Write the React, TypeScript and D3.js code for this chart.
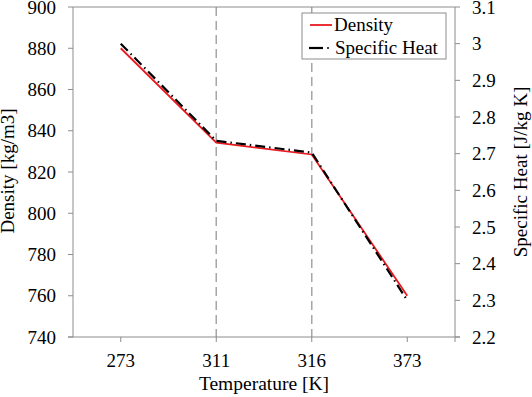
import React from "react";
import * as d3 from "d3";

const categories = ["273", "311", "316", "373"];
const density = [880, 834.2, 828.5, 760];
const specificHeat = [3.0, 2.735, 2.703, 2.3];
const leftTicks = [740, 760, 780, 800, 820, 840, 860, 880, 900];
const rightTicks = [2.2, 2.3, 2.4, 2.5, 2.6, 2.7, 2.8, 2.9, 3.0, 3.1];
const dashedAt = ["311", "316"];

const W = 532, H = 397;
const L = 73, R = 455, T = 7, B = 337;
const FONT = "Liberation Serif, DejaVu Serif, Times New Roman, serif";
const AX = "#8c8c8c";

export default function App() {
  const x = d3.scaleBand<string>().domain(categories).range([L, R]);
  const xc = (c: string) => (x(c) as number) + x.bandwidth() / 2;
  const yL = d3.scaleLinear().domain([740, 900]).range([B, T]);
  const yR = d3.scaleLinear().domain([2.2, 3.1]).range([B, T]);
  const lineD = d3.line<number>().x((_, i) => xc(categories[i])).y((d) => yL(d));
  const lineS = d3.line<number>().x((_, i) => xc(categories[i])).y((d) => yR(d));
  const fs = 19;
  return (
    <svg width={W} height={H} style={{ position: "absolute", left: 0, top: 0, background: "#fff", fontFamily: FONT }}>
      <rect x={0} y={0} width={W} height={H} fill="#fff" />
      {dashedAt.map((c) => (
        <line key={c} x1={xc(c)} x2={xc(c)} y1={T} y2={B} stroke="#a6a6a6" strokeWidth={1.5} strokeDasharray="9,5" />
      ))}
      <line x1={L} x2={R} y1={T} y2={T} stroke={AX} strokeWidth={1} />
      <line x1={L - 5} x2={R + 5} y1={B} y2={B} stroke={AX} strokeWidth={1} />
      <line x1={L} x2={L} y1={T} y2={B} stroke={AX} strokeWidth={1} />
      <line x1={R} x2={R} y1={T} y2={B} stroke={AX} strokeWidth={1} />
      {leftTicks.map((t) => (
        <g key={"l" + t}>
          <line x1={L - 5} x2={L} y1={yL(t)} y2={yL(t)} stroke={AX} />
          <text x={L - 17} y={yL(t)} dy="0.35em" textAnchor="end" fontSize={fs} fill="#000">{t}</text>
        </g>
      ))}
      {rightTicks.map((t) => (
        <g key={"r" + t}>
          <line x1={R} x2={R + 5} y1={yR(t)} y2={yR(t)} stroke={AX} />
          <text x={R + 17} y={yR(t)} dy="0.35em" textAnchor="start" fontSize={fs} fill="#000">{d3.format("~g")(t)}</text>
        </g>
      ))}
      {categories.map((c) => (
        <g key={"b" + c}>
          <line x1={xc(c)} x2={xc(c)} y1={B} y2={B + 5} stroke={AX} />
          <text x={xc(c)} y={367} textAnchor="middle" fontSize={fs} fill="#000">{c}</text>
        </g>
      ))}
      <line x1={R} x2={R} y1={B} y2={B + 5} stroke={AX} />
      <text x={(L + R) / 2} y={390} textAnchor="middle" fontSize={19.5} fill="#000">Temperature [K]</text>
      <text transform={`translate(14,171) rotate(-90)`} textAnchor="middle" fontSize={fs} fill="#000">Density [kg/m3]</text>
      <text transform={`translate(527,172) rotate(-90)`} textAnchor="middle" fontSize={fs} fill="#000">Specific Heat [J/kg K]</text>
      <path d={lineD(density) || ""} fill="none" stroke="#e8191f" strokeWidth={1.8} />
      <path d={lineS(specificHeat) || ""} fill="none" stroke="#000" strokeWidth={2.2} strokeDasharray="10,4,1.5,4" />
      <rect x={302} y={13} width={144} height={46} fill="#fff" stroke={AX} strokeWidth={1} />
      <line x1={310} x2={332} y1={25} y2={25} stroke="#e8191f" strokeWidth={1.8} />
      <text x={334} y={31} fontSize={fs} fill="#000">Density</text>
      <line x1={309} x2={323} y1={48} y2={48} stroke="#000" strokeWidth={2.2} />
      <line x1={327} x2={329} y1={48} y2={48} stroke="#000" strokeWidth={1.5} />
      <text x={335} y={54} fontSize={fs} fill="#000">Specific Heat</text>
    </svg>
  );
}
